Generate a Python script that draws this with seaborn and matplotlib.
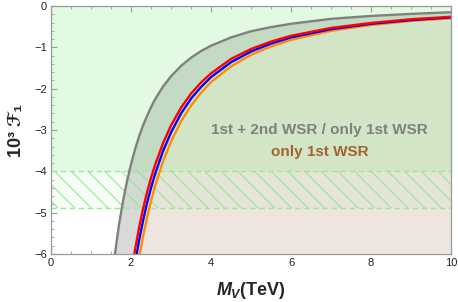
import numpy as np
import pandas as pd
import matplotlib
matplotlib.use("Agg")
import matplotlib.pyplot as plt
import seaborn as sns
from matplotlib.ticker import MultipleLocator

##### DATA
# M_V in TeV, 10^3 F_1
mGray = [1.59, 1.6, 1.7, 1.8, 1.9, 2.0, 2.1, 2.2, 2.3, 2.4, 2.5, 2.6, 2.8, 3.0, 3.25,
         3.5, 3.75, 4.0, 4.5, 5.0, 5.5, 6.0, 7.0, 8.0, 9.0, 10.0]
fGray = [-6.05, -5.98, -5.29, -4.72, -4.24, -3.83, -3.47, -3.16, -2.89, -2.66, -2.45,
         -2.26, -1.95, -1.70, -1.45, -1.25, -1.09, -0.96, -0.76, -0.61, -0.51, -0.43,
         -0.31, -0.24, -0.19, -0.15]

mRed = [2.05, 2.1, 2.2, 2.3, 2.4, 2.5, 2.6, 2.8, 3.0, 3.25, 3.5, 3.75, 4.0, 4.5, 5.0,
        5.5, 6.0, 7.0, 8.0, 9.0, 10.0]
fRed = [-6.19, -5.90, -5.37, -4.91, -4.51, -4.16, -3.85, -3.32, -2.89, -2.46, -2.12,
        -1.85, -1.63, -1.28, -1.04, -0.86, -0.72, -0.53, -0.41, -0.32, -0.26]

mBlue = [2.1, 2.2, 2.3, 2.4, 2.5, 2.6, 2.8, 3.0, 3.25, 3.5, 3.75, 4.0, 4.5, 5.0, 5.5,
         6.0, 7.0, 8.0, 9.0, 10.0]
fBlue = [-6.24, -5.68, -5.20, -4.77, -4.40, -4.07, -3.51, -3.06, -2.60, -2.24, -1.96,
         -1.72, -1.36, -1.10, -0.91, -0.76, -0.56, -0.43, -0.34, -0.275]

mOrange = [2.2, 2.3, 2.4, 2.5, 2.6, 2.8, 3.0, 3.25, 3.5, 3.75, 4.0, 4.5, 5.0, 5.5, 6.0,
           7.0, 8.0, 9.0, 10.0]
fOrange = [-6.10, -5.58, -5.12, -4.72, -4.36, -3.76, -3.28, -2.79, -2.41, -2.10, -1.84,
           -1.46, -1.18, -0.98, -0.82, -0.60, -0.46, -0.36, -0.295]

xLim = [0, 10]
yLim = [-6, 0]
greenBand = [-4, 0]
hatchBand = [-4.88, -4]

labelBoth = "1st + 2nd WSR / only 1st WSR"
labelFirst = "only 1st WSR"

##### STYLE
sns.set_theme(style="white")
plt.rcParams["font.family"] = ["Liberation Sans", "STIXGeneral", "DejaVu Sans"]
plt.rcParams["mathtext.fontset"] = "custom"
plt.rcParams["mathtext.rm"] = "Liberation Sans:bold"
plt.rcParams["mathtext.bf"] = "Liberation Sans:bold"
plt.rcParams["mathtext.it"] = "Liberation Sans:bold:italic"
plt.rcParams["mathtext.fallback"] = "stix"
plt.rcParams["hatch.linewidth"] = 0.7

fig, ax = plt.subplots(figsize=(4.58, 3.02), dpi=100)
fig.subplots_adjust(left=0.1114, right=0.9847, bottom=0.159, top=0.98)

# shaded regions
ax.fill_between(mGray, fGray, yLim[0], color="#d9d9d9", lw=0, zorder=1)
ax.fill_between(mRed, fRed, yLim[0], color="#eee5df", lw=0, zorder=1.1)
ax.axhspan(greenBand[0], greenBand[1], color="#4ae64a", alpha=0.16, lw=0, zorder=1.2)
ax.fill_between(xLim, hatchBand[0], hatchBand[1], facecolor="#4ae64a", alpha=0.05,
                lw=0, zorder=1.25)
ax.fill_between(xLim, hatchBand[0], hatchBand[1], facecolor="none", edgecolor="#8ce68c",
                hatch="\\\\", lw=0, zorder=1.3)
for yb in hatchBand:
    ax.axhline(yb, color="#9be89b", lw=1, ls=(0, (4, 2.5)), zorder=1.4)

# curves
curves = pd.concat([
    pd.DataFrame({"M": mGray, "F": fGray, "curve": "gray"}),
    pd.DataFrame({"M": mOrange, "F": fOrange, "curve": "orange"}),
    pd.DataFrame({"M": mBlue, "F": fBlue, "curve": "blue"}),
    pd.DataFrame({"M": mRed, "F": fRed, "curve": "red"}),
])
palette = {"gray": "#808080", "orange": "#ff8c00", "blue": "#0000ff", "red": "#ff0000"}
sns.lineplot(data=curves, x="M", y="F", hue="curve", palette=palette, sort=False,
             estimator=None, lw=1.7, legend=False, ax=ax, zorder=2)

ax.text(6.72, -3.0, labelBoth, color="#7f7f7f", fontsize=11, fontweight="bold",
        ha="center", va="center", zorder=3)
ax.text(6.72, -3.53, labelFirst, color="#a0652d", fontsize=11, fontweight="bold",
        ha="center", va="center", zorder=3)

ax.set_xlim(xLim)
ax.set_ylim(yLim)
ax.xaxis.set_major_locator(MultipleLocator(2))
ax.xaxis.set_minor_locator(MultipleLocator(0.5))
ax.yaxis.set_major_locator(MultipleLocator(1))
ax.yaxis.set_minor_locator(MultipleLocator(0.2))
ax.tick_params(which="both", direction="in", top=True, right=True, bottom=True,
               left=True, color="#999999", labelsize=8, labelcolor="#222222", pad=3)
ax.tick_params(which="major", length=4, width=0.8)
ax.tick_params(which="minor", length=2.2, width=0.6)
for s in ax.spines.values():
    s.set_color("#999999")
    s.set_linewidth(0.9)

ax.set_xlabel(r"$M_V$(TeV)", fontsize=13, fontweight="bold")
ax.set_ylabel("10³ ℱ₁", fontsize=13, fontweight="bold")
ax.xaxis.set_label_coords(0.5, -0.105)
ax.yaxis.set_label_coords(-0.065, 0.5)

fig.savefig("out.png", dpi=100)
